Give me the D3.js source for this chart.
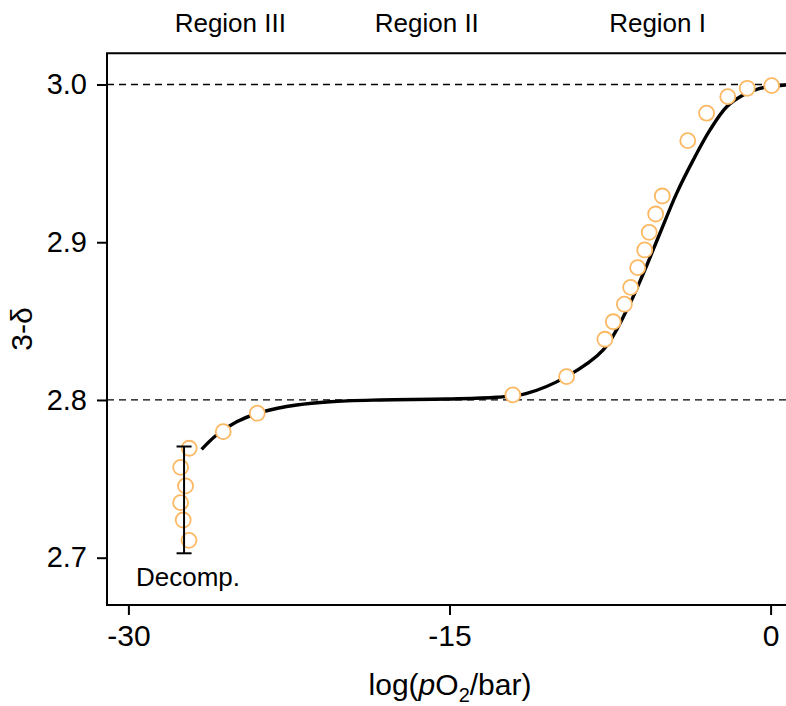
<!DOCTYPE html>
<html>
<head>
<meta charset="utf-8">
<script src="https://cdn.jsdelivr.net/npm/d3@7"></script>
<style>
  html, body { margin: 0; padding: 0; background: #fff; }
  svg { display: block; }
  text { font-family: "Liberation Sans", Arial, Helvetica, sans-serif; fill: #000; }
</style>
</head>
<body>
<svg id="chart" width="786" height="706"></svg>
<script>
// ---- data ----
const pointX = [0.05, -1.09, -2.00, -2.99, -3.87, -5.06, -5.37, -5.67, -5.88, -6.21, -6.54, -6.83, -7.35, -7.74, -9.53,
                -12.04, -23.98, -25.57, -27.16, -27.56, -27.33, -27.56, -27.44, -27.17];
const pointY = [2.9993, 2.9976, 2.9923, 2.9818, 2.9644, 2.9293, 2.9179, 2.9063, 2.8951, 2.8839, 2.8714, 2.8607, 2.8496, 2.8385, 2.8148,
                2.8032, 2.7916, 2.7799, 2.7694, 2.7573, 2.7455, 2.7349, 2.7239, 2.7110];

const curveX = [-26.58, -25.88, -24.94, -23.70, -22.14, -20.58, -18.25, -15.13, -12.80, -11.39, -9.53, -7.82, -6.72, -5.95, -5.17, -4.39, -3.61, -2.83, -2.05, -1.28, -0.50, 0.72, 1.0];
const curveY = [2.7687, 2.7778, 2.7862, 2.7926, 2.7968, 2.7989, 2.8000, 2.8006, 2.8017, 2.8042, 2.8148, 2.8317, 2.8570, 2.8800, 2.9057, 2.9310, 2.9522, 2.9712, 2.9859, 2.9934, 2.9976, 2.9997, 2.9998];

const errorBarX = [-27.4];
const errorBarLow = [2.7028];
const errorBarHigh = [2.7705];

const refLines = [3.0, 2.8];
const xTicks = [-30, -15, 0];
const yTicks = [2.7, 2.8, 2.9, 3.0];
const regionLabels = ["Region III", "Region II", "Region I"];
const regionCenters = [-25.24, -16.06, -5.28];

// ---- layout ----
const svg = d3.select("#chart");
const frame = { left: 107, top: 53.3, bottom: 605, right: 800 };
const x = d3.scaleLinear().domain([-30, 0]).range([128.4, 770.6]);
const y = d3.scaleLinear().domain([2.7, 3.0]).range([557.7, 84.5]);
const orange = "#fdb863";

svg.append("defs").append("clipPath").attr("id", "plotclip")
  .append("rect")
  .attr("x", frame.left).attr("y", frame.top)
  .attr("width", frame.right - frame.left).attr("height", frame.bottom - frame.top);

// reference dashed lines
svg.append("g").selectAll("line").data(refLines).join("line")
  .attr("x1", frame.left).attr("x2", frame.right)
  .attr("y1", d => y(d)).attr("y2", d => y(d))
  .attr("stroke", "#000").attr("stroke-width", 1.3)
  .attr("stroke-dasharray", "7,5");

// fitted curve
const line = d3.line().x((d, i) => x(curveX[i])).y((d, i) => y(curveY[i])).curve(d3.curveCatmullRom.alpha(0.5));
svg.append("path")
  .datum(curveX)
  .attr("clip-path", "url(#plotclip)")
  .attr("d", line)
  .attr("fill", "none").attr("stroke", "#000").attr("stroke-width", 3.4);

// data points
svg.append("g").attr("clip-path", "url(#plotclip)")
  .selectAll("circle").data(pointX).join("circle")
  .attr("cx", d => x(d)).attr("cy", (d, i) => y(pointY[i]))
  .attr("r", 7.5)
  .attr("fill", "#fff").attr("stroke", orange).attr("stroke-width", 1.8);

// error bar
const eb = svg.append("g").attr("stroke", "#000").attr("stroke-width", 2);
errorBarX.forEach((ex, i) => {
  const cx = x(ex);
  eb.append("line").attr("x1", cx).attr("x2", cx).attr("y1", y(errorBarLow[i])).attr("y2", y(errorBarHigh[i]));
  eb.append("line").attr("x1", cx - 7.5).attr("x2", cx + 7.5).attr("y1", y(errorBarLow[i])).attr("y2", y(errorBarLow[i]));
  eb.append("line").attr("x1", cx - 7.5).attr("x2", cx + 7.5).attr("y1", y(errorBarHigh[i])).attr("y2", y(errorBarHigh[i]));
});

svg.append("text")
  .attr("x", 136).attr("y", 586)
  .attr("font-size", 26)
  .text("Decomp.");

// frame (left, top, bottom; right edge is beyond the crop)
svg.append("path")
  .attr("d", `M${frame.right},${frame.top}H${frame.left}V${frame.bottom}H${frame.right}`)
  .attr("fill", "none").attr("stroke", "#000").attr("stroke-width", 2);

// axes
const xAxis = d3.axisBottom(x).tickValues(xTicks).tickSize(10).tickPadding(10).tickFormat(d3.format("d"));
const gx = svg.append("g").attr("transform", `translate(0,${frame.bottom})`).call(xAxis);
gx.select(".domain").remove();
gx.selectAll(".tick line").attr("stroke-width", 2);
gx.selectAll(".tick text").attr("font-size", 30).attr("font-family", "Liberation Sans, Arial, sans-serif")
  .text(d => d < 0 ? "-" + Math.abs(d) : d);

const yAxis = d3.axisLeft(y).tickValues(yTicks).tickSize(10).tickPadding(10).tickFormat(d3.format(".1f"));
const gy = svg.append("g").attr("transform", `translate(${frame.left},0)`).call(yAxis);
gy.select(".domain").remove();
gy.selectAll(".tick line").attr("stroke-width", 2);
gy.selectAll(".tick text").attr("font-size", 29).attr("font-family", "Liberation Sans, Arial, sans-serif");

// axis titles
const xt = svg.append("text")
  .attr("x", 450).attr("y", 695)
  .attr("text-anchor", "middle").attr("font-size", 30);
xt.append("tspan").text("log(");
xt.append("tspan").attr("font-style", "italic").text("p");
xt.append("tspan").text("O");
xt.append("tspan").attr("font-size", 20).attr("dy", 7).text("2");
xt.append("tspan").attr("dy", -7).text("/bar)");

svg.append("text")
  .attr("transform", "translate(32,329) rotate(-90)")
  .attr("text-anchor", "middle").attr("font-size", 30)
  .text("3-δ");

// region labels
svg.append("g").selectAll("text").data(regionLabels).join("text")
  .attr("x", (d, i) => x(regionCenters[i]))
  .attr("y", 32)
  .attr("text-anchor", "middle").attr("font-size", 26)
  .text(d => d);
</script>
</body>
</html>
